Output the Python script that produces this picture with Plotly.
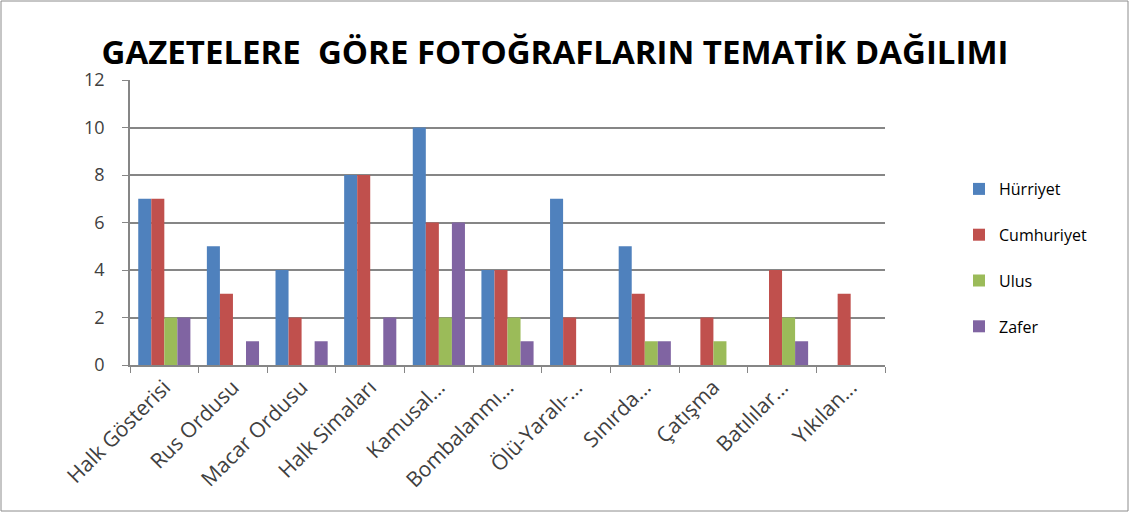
import plotly.graph_objects as go

categories = ["Halk Gösterisi", "Rus Ordusu", "Macar Ordusu", "Halk Simaları", "Kamusal...",
              "Bombalanmı...", "Ölü-Yaralı-...", "Sınırda...", "Çatışma", "Batılılar...", "Yıkılan..."]
hurriyet = [7, 5, 4, 8, 10, 4, 7, 5, 0, 0, 0]
cumhuriyet = [7, 3, 2, 8, 6, 4, 2, 3, 2, 4, 3]
ulus = [2, 0, 0, 0, 2, 2, 0, 1, 1, 2, 0]
zafer = [2, 1, 1, 2, 6, 1, 0, 1, 0, 1, 0]
series_names = ["Hürriyet", "Cumhuriyet", "Ulus", "Zafer"]
colors = ["#4F81BD", "#C0504D", "#9BBB59", "#8064A2"]

W, H = 1129, 512
ml, mr, mt, mb = 130, 244, 80, 147
pw, ph = W - ml - mr, H - mt - mb

fig = go.Figure()
for name, vals, col in zip(series_names, [hurriyet, cumhuriyet, ulus, zafer], colors):
    fig.add_trace(go.Bar(x=categories, y=vals, name=name, marker_color=col,
                         marker_line_width=0, legendgroup=name))

fig.update_layout(
    width=W, height=H,
    margin=dict(l=ml, r=mr, t=mt, b=mb),
    paper_bgcolor="white", plot_bgcolor="white",
    barmode="group", bargap=0.24, bargroupgap=0,
    font=dict(family="Open Sans, Liberation Sans, sans-serif", color="#404040"),
    title=dict(text="<b>GAZETELERE  GÖRE FOTOĞRAFLARIN TEMATİK DAĞILIMI</b>",
               x=555 / W, xanchor="center", y=1 - 52 / H, yanchor="middle",
               font=dict(size=33, color="#000000")),
    showlegend=True,
    legend=dict(x=1 + 74 / pw, xanchor="left", y=1 - (172 - mt) / ph, yanchor="top",
                font=dict(size=16, color="#000000"), tracegroupgap=22,
                itemwidth=30, bgcolor="rgba(0,0,0,0)"),
    xaxis=dict(type="category", tickangle=-45, tickfont=dict(size=21, color="#404040"),
               showline=True, linecolor="#868686", linewidth=1.5,
               ticks="outside", tickson="boundaries", ticklen=6, tickcolor="#868686",
               showgrid=False),
    yaxis=dict(range=[0, 12], dtick=2, tickfont=dict(size=18, color="#404040"),
               showline=True, linecolor="#868686", linewidth=1.5,
               ticks="outside", ticklen=6, tickcolor="#868686", ticklabelstandoff=14,
               showgrid=True, gridcolor="#868686", gridwidth=1.5, zeroline=False),
)

fig.add_shape(type="rect", xref="paper", yref="paper",
              x0=-(ml - 1) / pw, x1=1 + (mr - 1) / pw,
              y0=-(mb - 1) / ph, y1=1 + (mt - 1) / ph,
              line=dict(color="#8c8c8c", width=1), layer="below")

fig.write_html("out.html", config={"displayModeBar": False},
               post_script="document.body.style.margin='0';")
